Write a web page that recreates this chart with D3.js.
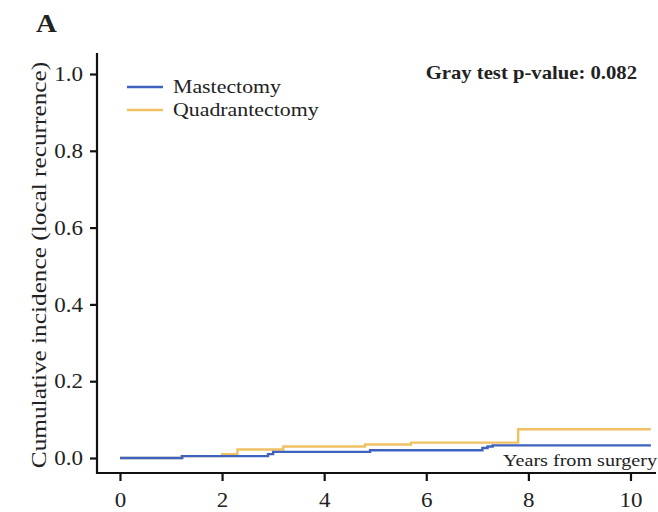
<!DOCTYPE html>
<html>
<head>
<meta charset="utf-8">
<script src="https://cdn.jsdelivr.net/npm/d3@7"></script>
<style>
  body { margin: 0; background: #fff; }
  text { font-family: "Liberation Serif", "Times New Roman", serif; fill: #222; }
</style>
</head>
<body>
<svg id="chart" width="658" height="512"></svg>
<script>
// ─── Data ────────────────────────────────────────────────────────────────
const groups = ["Mastectomy", "Quadrantectomy"];
const colors = ["#3d63bf", "#efc163"];

const mastectomyYears = [0, 1.22, 2.9, 3.0, 4.9, 7.1, 7.2, 7.3, 10.4];
const mastectomyCIF   = [0, 0.005, 0.010, 0.016, 0.020, 0.026, 0.030, 0.033, 0.033];

const quadYears = [0, 1.2, 2.0, 2.3, 3.2, 4.8, 5.7, 7.8, 10.4];
const quadCIF   = [0, 0.005, 0.010, 0.022, 0.030, 0.035, 0.040, 0.075, 0.075];

const xTicks = [0, 2, 4, 6, 8, 10];
const yTicks = [0, 0.2, 0.4, 0.6, 0.8, 1.0];

// ─── Layout ──────────────────────────────────────────────────────────────
const svg = d3.select("#chart");
const panelL = 97, panelR = 656, panelT = 53, panelB = 473;
const STRETCH = 1.15; // source text is rendered a bit wide

const x = d3.scaleLinear().domain([-0.45, 10.5]).range([panelL, panelR]);
const y = d3.scaleLinear().domain([0, 1]).range([458, 74]);

// Axes
const xAxis = svg.append("g").attr("transform", `translate(0,${panelB})`)
  .call(d3.axisBottom(x).tickValues(xTicks).tickSize(8).tickFormat(d3.format("d")));
const yAxis = svg.append("g").attr("transform", `translate(${panelL},0)`)
  .call(d3.axisLeft(y).tickValues(yTicks).tickSize(7).tickFormat(d3.format(".1f")));

[xAxis, yAxis].forEach(a => {
  a.select(".domain").remove();
  a.selectAll(".tick line").attr("stroke", "#111").attr("stroke-width", 2.2);
  a.selectAll(".tick text").attr("font-size", 20).attr("fill", "#555")
    .style("font-family", '"Liberation Serif", serif')
    .attr("x", 0).attr("y", 0);
});
xAxis.selectAll(".tick text").attr("dy", 0)
  .attr("transform", `translate(0,34) scale(${STRETCH},1)`);
yAxis.selectAll(".tick text").attr("dy", "0.33em")
  .attr("transform", `translate(-14,0) scale(${STRETCH},1)`);

svg.append("line").attr("x1", panelL).attr("x2", panelL).attr("y1", panelT).attr("y2", panelB + 1)
  .attr("stroke", "#111").attr("stroke-width", 2.2);
svg.append("line").attr("x1", panelL - 1).attr("x2", panelR).attr("y1", panelB).attr("y2", panelB)
  .attr("stroke", "#111").attr("stroke-width", 2.2);

// Curves
const line = d3.line().x(d => x(d[0])).y(d => y(d[1])).curve(d3.curveStepAfter);
const series = [
  d3.zip(quadYears, quadCIF),
  d3.zip(mastectomyYears, mastectomyCIF)
];
svg.append("path").datum(series[0]).attr("d", line)
  .attr("fill", "none").attr("stroke", colors[1]).attr("stroke-width", 2.4);
svg.append("path").datum(series[1]).attr("d", line)
  .attr("fill", "none").attr("stroke", colors[0]).attr("stroke-width", 2.4);

// helper: text placed at (tx,ty), widened along its own direction
function wideText(tx, ty, size, str, opts = {}) {
  return svg.append("text")
    .attr("transform", `translate(${tx},${ty})${opts.rotate ? " rotate(-90)" : ""} scale(${STRETCH},1)`)
    .attr("text-anchor", opts.anchor || "start")
    .attr("font-size", size)
    .attr("font-weight", opts.bold ? "bold" : "normal")
    .attr("fill", opts.fill || "#555")
    .text(str);
}

// Axis titles
wideText(46, (panelT + panelB) / 2 + 2, 22, "Cumulative incidence (local recurrence)",
  { rotate: true, anchor: "middle" });
wideText(657, 466, 17.5, "Years from surgery", { anchor: "end" });

// Panel label & test
wideText(36, 32, 25, "A", { bold: true, fill: "#333" });
wideText(637, 79, 18, "Gray test p-value: 0.082", { anchor: "end", bold: true, fill: "#333" });

// Legend
groups.forEach((g, i) => {
  const ly = 87 + i * 23;
  svg.append("line").attr("x1", 127).attr("x2", 163).attr("y1", ly).attr("y2", ly)
    .attr("stroke", colors[i]).attr("stroke-width", 2.6);
  wideText(173, ly + 6, 19, g);
});
</script>
</body>
</html>
